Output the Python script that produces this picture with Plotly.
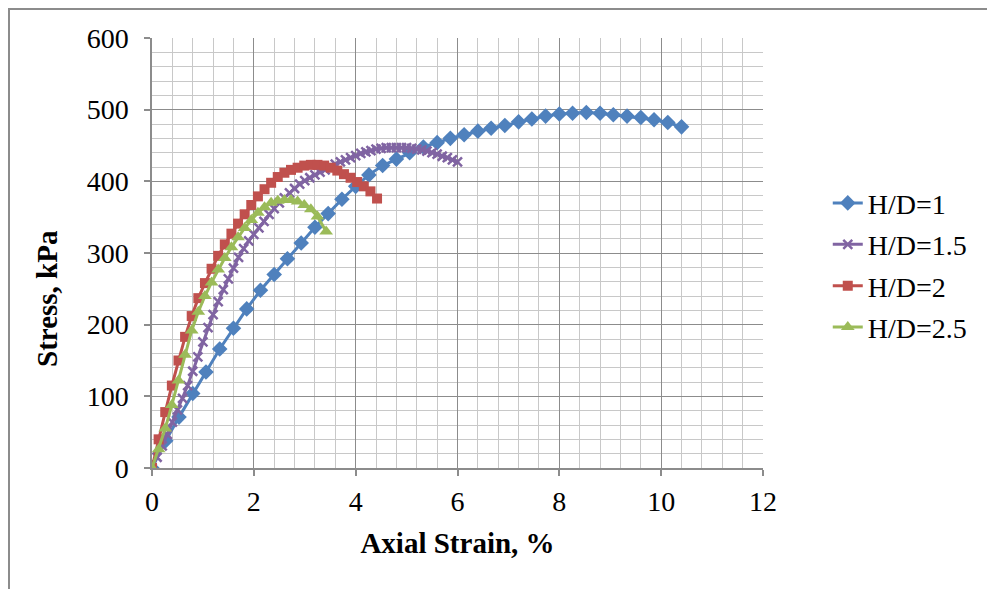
import plotly.graph_objects as go

# Stress–strain curves for four specimen slenderness ratios
strain_hd1 = [0.00, 0.27, 0.53, 0.80, 1.06, 1.33, 1.60, 1.86, 2.13, 2.40,
              2.66, 2.93, 3.20, 3.46, 3.73, 4.00, 4.26, 4.53, 4.80, 5.06,
              5.33, 5.60, 5.86, 6.13, 6.40, 6.66, 6.93, 7.20, 7.46, 7.73,
              8.00, 8.26, 8.53, 8.80, 9.06, 9.33, 9.60, 9.86, 10.13, 10.40]
stress_hd1 = [0, 38, 71, 104, 134, 166, 195, 222, 248, 270,
              292, 314, 336, 355, 375, 393, 409, 422, 431, 440,
              448, 454, 460, 465, 470, 474, 478, 483, 487, 491,
              494, 495, 496, 495, 493, 491, 489, 486, 482, 476]

strain_hd15 = [0.0, 0.1, 0.2, 0.3, 0.4, 0.5, 0.6, 0.7, 0.8, 0.9,
               1.0, 1.1, 1.2, 1.3, 1.4, 1.5, 1.6, 1.7, 1.8, 1.9,
               2.0, 2.1, 2.2, 2.3, 2.4, 2.5, 2.6, 2.7, 2.8, 2.9,
               3.0, 3.1, 3.2, 3.3, 3.4, 3.5, 3.6, 3.7, 3.8, 3.9,
               4.0, 4.1, 4.2, 4.3, 4.4, 4.5, 4.6, 4.7, 4.8, 4.9,
               5.0, 5.1, 5.2, 5.3, 5.4, 5.5, 5.6, 5.7, 5.8, 5.9, 6.0]
stress_hd15 = [0, 15, 31, 47, 64, 81, 97, 115, 135, 155,
               176, 196, 214, 232, 249, 264, 279, 294, 306, 317,
               326, 335, 344, 354, 362, 370, 377, 384, 390, 396,
               401, 405, 409, 413, 416, 420, 424, 427, 430, 433,
               436, 439, 441, 443, 445, 446, 447, 447, 447, 447,
               447, 446, 445, 444, 442, 440, 438, 435, 433, 430, 427]

strain_hd2 = [0.00, 0.13, 0.26, 0.39, 0.52, 0.65, 0.78, 0.91, 1.04, 1.17,
              1.30, 1.43, 1.56, 1.69, 1.82, 1.95, 2.08, 2.21, 2.34, 2.47,
              2.60, 2.73, 2.86, 2.99, 3.12, 3.25, 3.38, 3.51, 3.64, 3.77,
              3.90, 4.03, 4.16, 4.29, 4.42]
stress_hd2 = [0, 40, 78, 115, 150, 183, 212, 237, 258, 278,
              296, 312, 327, 341, 354, 367, 379, 389, 398, 406,
              412, 416, 419, 422, 423, 423, 422, 419, 415, 410,
              405, 399, 393, 386, 376]

strain_hd25 = [0.00, 0.13, 0.26, 0.39, 0.52, 0.65, 0.78, 0.91, 1.04, 1.17,
               1.30, 1.43, 1.56, 1.69, 1.82, 1.95, 2.08, 2.21, 2.34, 2.47,
               2.60, 2.73, 2.86, 2.99, 3.12, 3.25, 3.42]
stress_hd25 = [0, 26, 55, 88, 122, 158, 192, 218, 240, 259,
               277, 293, 308, 322, 335, 346, 356, 364, 370, 373,
               374, 374, 372, 367, 361, 351, 330]

series = [
    ("H/D=1", strain_hd1, stress_hd1, "#4F81BD", "diamond", 12),
    ("H/D=1.5", strain_hd15, stress_hd15, "#8064A2", "x-thin", 9),
    ("H/D=2", strain_hd2, stress_hd2, "#C0504D", "square", 10),
    ("H/D=2.5", strain_hd25, stress_hd25, "#9BBB59", "triangle-up", 12),
]

x_ticks = [0, 2, 4, 6, 8, 10, 12]
y_ticks = [0, 100, 200, 300, 400, 500, 600]

FONT = "Liberation Serif, Times New Roman, serif"

fig = go.Figure()
for i, (name, xs, ys, color, symbol, size) in enumerate(series):
    fig.add_trace(go.Scatter(
        x=xs, y=ys, name=name, mode="lines+markers",
        legendgroup=f"g{i}",
        line=dict(color=color, width=3),
        marker=dict(symbol=symbol, size=size, color=color,
                    line=dict(color=color, width=2.5 if symbol == "x-thin" else 0)),
    ))

grid_major = "#8C8C8C"
grid_minor = "#C8C8C8"

fig.update_layout(
    width=987, height=589,
    margin=dict(l=152, r=224, t=38, b=121),
    paper_bgcolor="white", plot_bgcolor="white",
    font=dict(family=FONT, size=28, color="black"),
    showlegend=True,
    legend=dict(x=1.106, y=0.674, xanchor="left", yanchor="top",
                font=dict(family=FONT, size=28, color="black"),
                tracegroupgap=2, bgcolor="rgba(0,0,0,0)"),
    xaxis=dict(
        range=[0, 12], tickvals=x_ticks, ticktext=[str(v) for v in x_ticks],
        showgrid=True, gridcolor=grid_major, gridwidth=1,
        minor=dict(dtick=0.4, showgrid=True, gridcolor=grid_minor, gridwidth=1),
        showline=True, linecolor=grid_major, linewidth=1.5,
        ticks="outside", ticklen=6, tickcolor=grid_major, tickwidth=1.5,
        ticklabelstandoff=2,
        zeroline=False,
        title=dict(text="<b>Axial Strain, %</b>", standoff=16,
                   font=dict(family=FONT, size=29)),
    ),
    yaxis=dict(
        range=[0, 600], tickvals=y_ticks, ticktext=[str(v) for v in y_ticks],
        showgrid=True, gridcolor=grid_major, gridwidth=1,
        minor=dict(dtick=20, showgrid=True, gridcolor=grid_minor, gridwidth=1),
        showline=True, linecolor=grid_major, linewidth=1.5,
        ticks="outside", ticklen=6, tickcolor=grid_major, tickwidth=1.5,
        ticklabelstandoff=10,
        zeroline=False,
    ),
    annotations=[dict(text="<b>Stress, kPa</b>", textangle=-90,
                      xref="paper", yref="paper",
                      x=(47 - 152) / 611, y=(468 - 299) / 430,
                      xanchor="center", yanchor="middle", showarrow=False,
                      font=dict(family=FONT, size=29, color="black"))],
    shapes=[dict(type="rect", xref="paper", yref="paper",
                 x0=(9 - 152) / 611, x1=2.0, y0=-1.0, y1=(468 - 9) / 430,
                 line=dict(color="#8C8C8C", width=2), fillcolor="rgba(0,0,0,0)",
                 layer="below")],
)

fig.write_html("out.html")
